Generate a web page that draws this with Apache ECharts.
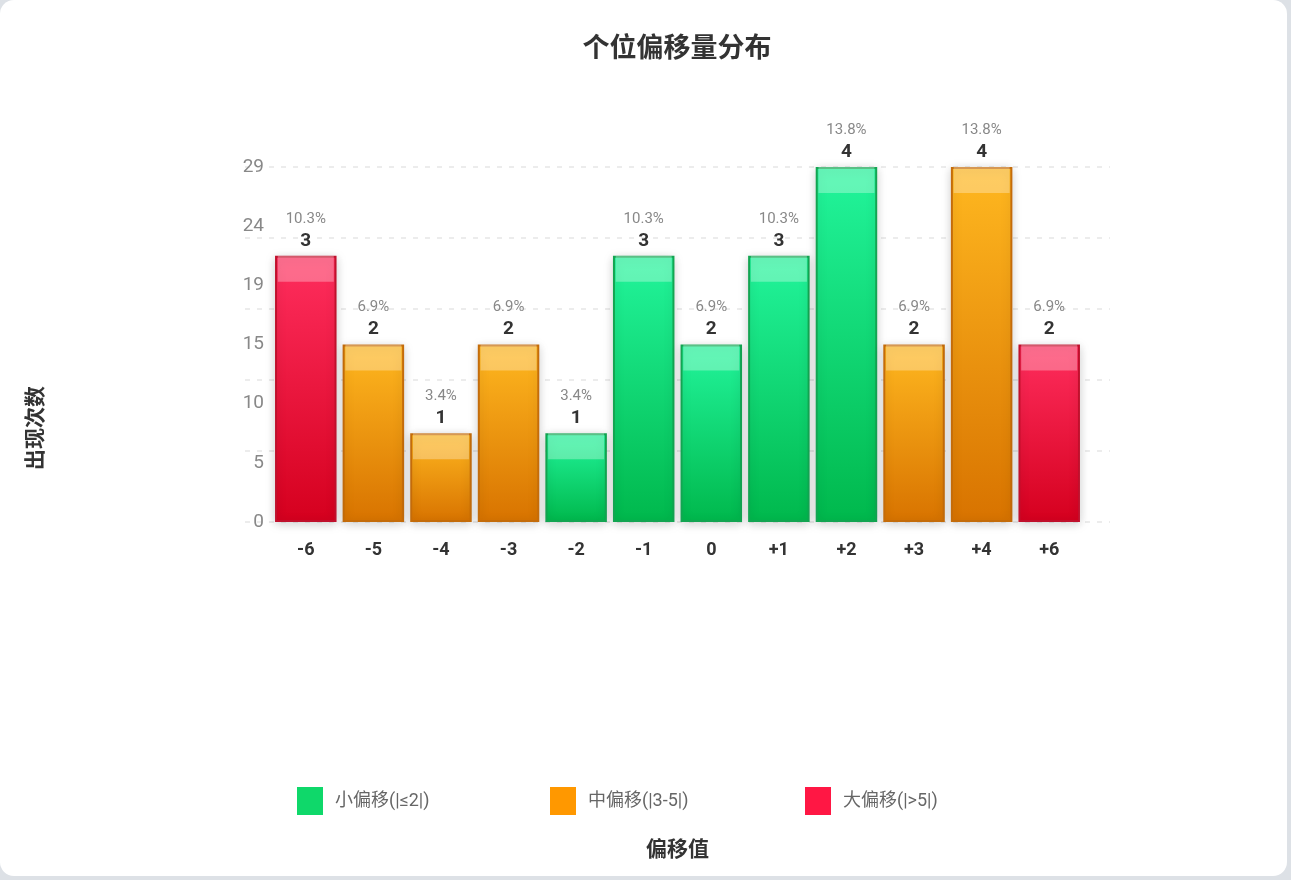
<!DOCTYPE html>
<html>
<head>
<meta charset="utf-8">
<script src="https://cdn.jsdelivr.net/npm/echarts@6/dist/echarts.min.js"></script>
<style>
html,body{margin:0;padding:0;background:#dde1e6;width:1291px;height:880px;overflow:hidden;}
#card{position:absolute;left:0;top:0;width:1287px;height:876px;background:#fff;border-radius:14px;}
#chart{width:1287px;height:876px;}
</style>
</head>
<body>
<div id="card"><div id="chart"></div></div>
<script>
var categories = ['-6','-5','-4','-3','-2','-1','0','+1','+2','+3','+4','+6'];
var counts = [3,2,1,2,1,3,2,3,4,2,4,2];
var percents = ['10.3%','6.9%','3.4%','6.9%','3.4%','10.3%','6.9%','10.3%','13.8%','6.9%','13.8%','6.9%'];
var groupOf = ['large','medium','medium','medium','small','small','small','small','small','medium','medium','large'];
var yTickLabels = ['0','5','10','15','19','24','29'];
var legendNames = {small:'小偏移(|≤2|)', medium:'中偏移(|3-5|)', large:'大偏移(|>5|)'};

var FONT = "Roboto, 'Noto Sans CJK SC', sans-serif";
var CJK = "'Noto Sans CJK SC', sans-serif";

var styles = {
  small: {top:'#22f59c', bottom:'#00b84c', border:'#13a552', legend:'#0fd86a'},
  medium:{top:'#ffb820', bottom:'#d87300', border:'#c46c0a', legend:'#ff9800'},
  large: {top:'#ff2e5e', bottom:'#d5001e', border:'#c0102c', legend:'#ff1744'}
};

function seriesFor(g){
  var s = styles[g];
  return {
    name: legendNames[g],
    type: 'bar',
    stack: 'all',
    barCategoryGap: '9%',
    data: counts.map(function(v,i){ return groupOf[i]===g ? v : null; }),
    itemStyle: {
      color: new echarts.graphic.LinearGradient(0,0,0,1,[{offset:0,color:s.top},{offset:1,color:s.bottom}]),
      borderColor: s.border,
      borderWidth: 2,
      shadowBlur: 10,
      shadowColor: 'rgba(0,0,0,0.18)',
      shadowOffsetY: 2
    },
    label: {
      show: true,
      position: 'top',
      distance: 5,
      formatter: function(p){ return '{p|' + percents[p.dataIndex] + '}\n{v|' + p.value + '}'; },
      rich: {
        p: {fontSize: 15, color: '#888', fontFamily: FONT, lineHeight: 24, align:'center'},
        v: {fontSize: 19, color: '#333', fontWeight: 'bold', fontFamily: FONT, lineHeight: 20, align:'center'}
      }
    },
    z: 2
  };
}

function legendAt(g, x){
  return {
    left: x, top: 787, padding: 0,
    itemWidth: 26, itemHeight: 28,
    icon: 'rect',
    data: [{name: legendNames[g], itemStyle:{color: styles[g].legend, borderWidth: 0, shadowBlur: 0}}],
    textStyle: {fontSize: 18, color: '#666', fontFamily: FONT, padding:[0,0,0,7]}
  };
}

var chart = echarts.init(document.getElementById('chart'));
var option = {
  animation: false,
  title: {
    text: '个位偏移量分布',
    left: 677, top: 33, textAlign: 'center', padding: 0,
    textStyle: {fontSize: 27, fontWeight: 'bold', color: '#333', fontFamily: CJK}
  },
  legend: [legendAt('small', 297), legendAt('medium', 550), legendAt('large', 805)],
  graphic: [{
    type: 'text', left: 24, top: 386, rotation: Math.PI/2,
    style: {text: '出现次数', font: "bold 21px 'Noto Sans CJK SC'", fill: '#333'}
  }],
  grid: [
    {left: 272, right: 1287-1083, top: 167, bottom: 876-522},
    {left: 245, right: 1287-1110, top: 167, bottom: 876-522}
  ],
  xAxis: [{
    type: 'category', data: categories, gridIndex: 0,
    axisLine: {show: false}, axisTick: {show: false},
    axisLabel: {fontSize: 18, fontWeight: 'bold', color: '#333', fontFamily: FONT, margin: 20},
    name: '偏移值', nameLocation: 'middle', nameGap: 316,
    nameTextStyle: {fontSize: 21, fontWeight: 'bold', color: '#333', fontFamily: CJK}
  },{
    type: 'category', data: categories, gridIndex: 1, show: false
  }],
  yAxis: [{
    type: 'value', min: 0, max: 4, interval: 4/6, gridIndex: 0,
    axisLine: {show: false}, axisTick: {show: false},
    splitLine: {show: false},
    axisLabel: {fontSize: 19, color: '#888', fontFamily: FONT, margin: 8,
      formatter: function(v, idx){ return yTickLabels[idx]; }},
    z: 3
  },{
    type: 'value', min: 0, max: 4, interval: 4/5, gridIndex: 1,
    axisLine: {show: false}, axisTick: {show: false},
    axisLabel: {show: false},
    splitLine: {show: true, lineStyle: {type: [5,7], color: '#e6e6e6', width: 1.5}}
  }],
  series: [
    seriesFor('small'), seriesFor('medium'), seriesFor('large'),
    {
      type: 'pictorialBar',
      symbol: 'rect',
      symbolPosition: 'end',
      symbolSize: [56, 26],
      symbolOffset: [0, 0],
      barCategoryGap: '9%',
      data: counts,
      itemStyle: {color: 'rgba(255,255,255,0.3)'},
      silent: true,
      z: 5
    }
  ]
};
chart.setOption(option);
</script>
</body>
</html>
